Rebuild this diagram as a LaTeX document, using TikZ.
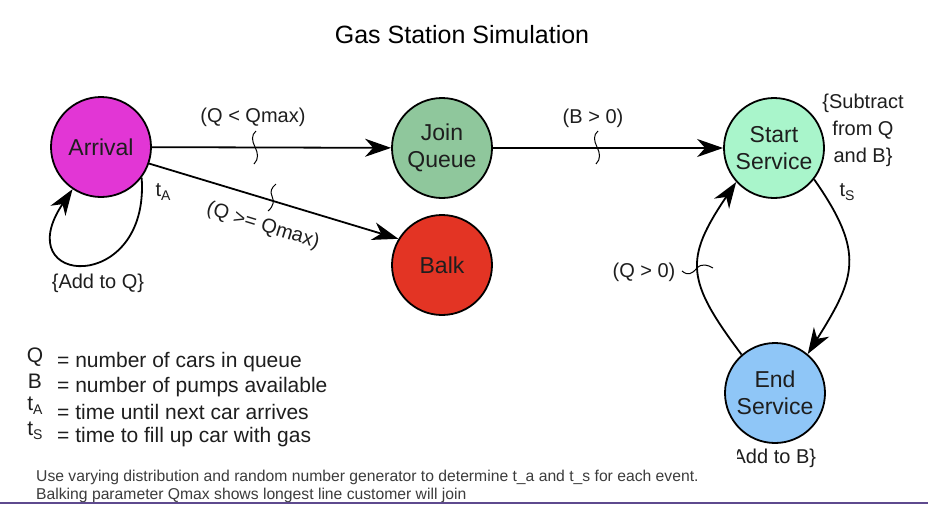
\documentclass[tikz,border=0pt]{standalone}
\usepackage{fontspec}
\setmainfont{Liberation Sans}
\usetikzlibrary{arrows.meta}
\definecolor{cArr}{HTML}{E236D5}
\definecolor{cJoin}{HTML}{8FC79C}
\definecolor{cBalk}{HTML}{E33424}
\definecolor{cStart}{HTML}{A9F5CB}
\definecolor{cEnd}{HTML}{8FC6F7}
\definecolor{cLine}{HTML}{5E4A8E}
\definecolor{cText}{HTML}{1E1E1E}
\definecolor{cNote}{HTML}{3C3C3C}
\newcommand{\subA}[1]{\raisebox{-0.35ex}{\fontsize{14}{14}\selectfont #1}}
\begin{document}
\begin{tikzpicture}[x=1pt,y=-1pt,
  state/.style={circle, draw=black, line width=1.8pt, minimum size=100pt, inner sep=0pt,
    align=center, font=\fontsize{23}{27}\selectfont, text=cText},
  conn/.style={line width=1.8pt, -{Stealth[length=26pt,width=18pt,inset=8pt]}},
  lbl/.style={font=\fontsize{20}{27}\selectfont, text=cText, inner sep=0pt, align=center},
  squig/.style={line width=1pt},
  legsym/.style={font=\fontsize{21}{21}\selectfont, text=cText, inner sep=0pt},
  legtxt/.style={font=\fontsize{21}{21}\selectfont, text=cText, inner sep=0pt, anchor=west},
  note/.style={font=\fontsize{15.7}{16}\selectfont, text=cNote, inner sep=0pt, anchor=west}
]
\useasboundingbox (0,0) rectangle (928,504);
\fill[white] (0,0) rectangle (928,504);

% title
\node[font=\fontsize{25}{30}\selectfont, inner sep=0pt] (title) at (462,35) {Gas Station Simulation};

% states
\node[state, fill=cArr] (arr) at (101,147) {Arrival};
\node[state, fill=cJoin] (join) at (442,148) {Join\\Queue};
\node[state, fill=cBalk] (balk) at (442,265) {Balk};
\node[state, fill=cStart] (start) at (774,148) {Start\\Service};
\node[state, fill=cEnd] (end) at (775,393) {End\\Service};

% connectors
\draw[conn] (arr) -- (join);
\draw[conn] (arr.-19) -- (balk.149);
\draw[conn] (join) -- (start);
\draw[conn] (arr.-37) .. controls +(-86:118pt) and +(-124:118pt) .. (arr.-124);
\draw[conn] (start.-38) .. controls +(-55:90pt) and +(58:90pt) .. (end.50);
\draw[conn] (end.131) .. controls +(127:93pt) and +(-124:93pt) .. (start.-138);

% labels
\node[lbl] (l1) at (253,117) {(Q < Qmax)};
\node[lbl, rotate=-17] (l2) at (263,226) {(Q >= Qmax)};
\node[lbl] (l3) at (593,118) {(B > 0)};
\node[lbl] (l4) at (644,272) {(Q > 0)};
\node[lbl] (ta) at (163,192) {t\subA{A}};
\node[lbl] (ts) at (847,192) {t\subA{S}};
\node[lbl] (addq) at (98,283) {\{Add to Q\}};
\node[lbl] (sub) at (863,130) {\{Subtract\\from Q\\and B\}};
\begin{scope}
\clip (737,440) rectangle (900,480);
\node[lbl] (addb) at (771,458) {\{Add to B\}};
\end{scope}

% label ticks
\draw[squig] (256,131) .. controls (251,135) and (252,141) .. (255,147) .. controls (258,153) and (259,159) .. (254,164);
\draw[squig] (276,184) .. controls (271,188) and (270,192) .. (272,196) .. controls (274,201) and (274,206) .. (268,211);
\draw[squig] (598,131) .. controls (593,135) and (594,141) .. (597,147) .. controls (600,153) and (601,159) .. (596,164);
\draw[squig] (682,271) .. controls (688,276) and (692,274) .. (697,268) .. controls (702,263) and (708,265) .. (713,268);

% legend
\node[legsym] (kq) at (35,357) {Q};
\node[legsym] (kb) at (35,381) {B};
\node[legsym] (ka) at (35,406) {t\subA{A}};
\node[legsym] (ks) at (35,431) {t\subA{S}};
\node[legtxt] (vq) at (57,362) {= number of cars in queue};
\node[legtxt] (vb) at (57,387) {= number of pumps available};
\node[legtxt] (va) at (57,412) {= time until next car arrives};
\node[legtxt] (vs) at (57,437) {= time to fill up car with gas};

% notes
\node[note] (n1) at (36,477) {Use varying distribution and random number generator to determine t\_a and t\_s for each event.};
\node[note] (n2) at (36,495) {Balking parameter Qmax shows longest line customer will join};

\draw[cLine, line width=1.5pt] (0,503.2) -- (928,503.2);
\end{tikzpicture}
\end{document}
